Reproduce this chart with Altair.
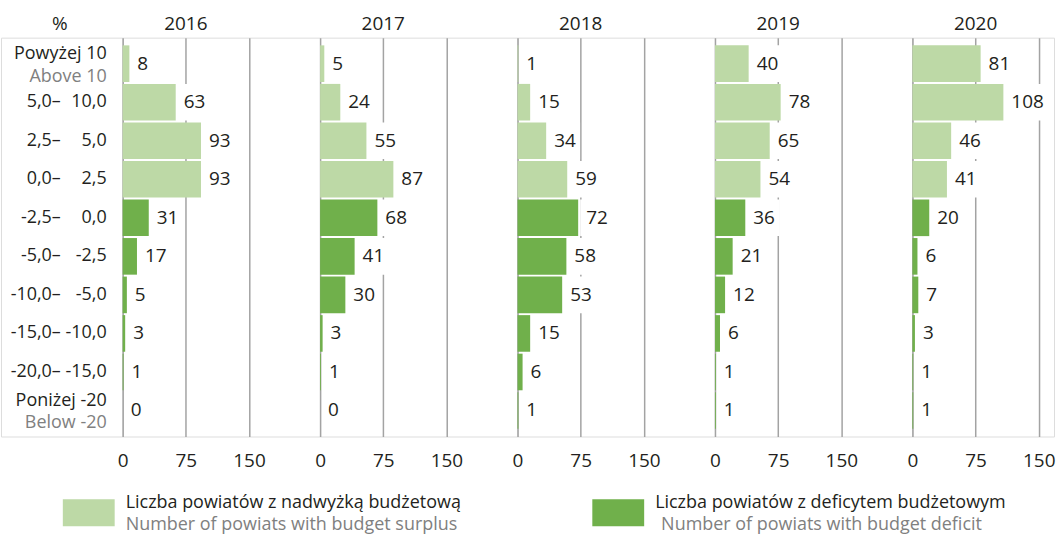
import altair as alt
import pandas as pd

# Budget result classes (% of revenue), top to bottom
cat_keys = ["p10", "5-10", "2.5-5", "0-2.5", "-2.5-0", "-5--2.5",
            "-10--5", "-15--10", "-20--15", "m20"]
label_lo = ["", "5,0–", "2,5–", "0,0–", "-2,5–", "-5,0–", "-10,0–",
            "-15,0–", "-20,0–", ""]
label_hi = ["", "10,0", "5,0", "2,5", "0,0", "-2,5", "-5,0", "-10,0",
            "-15,0", ""]
label_pl = ["Powyżej 10", "", "", "", "", "", "", "", "", "Poniżej -20"]
label_en = ["Above 10", "", "", "", "", "", "", "", "", "Below -20"]
kinds = ["surplus"] * 4 + ["deficit"] * 6

years = ["2016", "2017", "2018", "2019", "2020"]
counts = {
    "2016": [8, 63, 93, 93, 31, 17, 5, 3, 1, 0],
    "2017": [5, 24, 55, 87, 68, 41, 30, 3, 1, 0],
    "2018": [1, 15, 34, 59, 72, 58, 53, 15, 6, 1],
    "2019": [40, 78, 65, 54, 36, 21, 12, 6, 1, 1],
    "2020": [81, 108, 46, 41, 20, 6, 7, 3, 1, 1],
}

legend_pl = ["Liczba powiatów z nadwyżką budżetową",
             "Liczba powiatów z deficytem budżetowym"]
legend_en = ["Number of powiats with budget surplus",
             "Number of powiats with budget deficit"]

LIGHT = "#bdd9a6"
DARK = "#70b04b"
INK = "#231f20"
GREY = "#808080"
FONT = "Open Sans"
FS = 19
FS_ROW = 18
FS_LEG = 18

PLOT_H = 400
LABEL_W = 122
PANEL_W = [198, 198, 198, 198, 142]
PX_PER_UNIT = 126.7 / 150  # pixels per powiat on the x scale

y_enc = alt.Y("cat:N", sort=cat_keys, axis=None,
              scale=alt.Scale(type="band", paddingInner=0.05, paddingOuter=0.2))

labels_df = pd.DataFrame({"cat": cat_keys, "lo": label_lo, "hi": label_hi,
                          "pl": label_pl, "en": label_en})

lab_base = alt.Chart(labels_df).encode(y=y_enc)
lab_lo = lab_base.mark_text(align="right", font=FONT, fontSize=FS_ROW, color=INK).encode(
    x=alt.value(60), text="lo:N")
lab_hi = lab_base.mark_text(align="right", font=FONT, fontSize=FS_ROW, color=INK).encode(
    x=alt.value(106), text="hi:N")
lab_pl = lab_base.mark_text(align="right", font=FONT, fontSize=FS_ROW, color=INK, dy=-10).encode(
    x=alt.value(106), text="pl:N")
lab_en = lab_base.mark_text(align="right", font=FONT, fontSize=FS_ROW, color=GREY, dy=13).encode(
    x=alt.value(106), text="en:N")
pct = alt.Chart(pd.DataFrame({"t": ["%"]})).mark_text(
    font=FONT, fontSize=FS, color=INK).encode(
    text="t:N", x=alt.value(59), y=alt.value(-14))


def legend_item(x0, color, pl, en, en_dx):
    df = pd.DataFrame({"pl": [pl], "en": [en]})
    base = alt.Chart(df)
    swatch = base.mark_rect(color=color).encode(
        x=alt.value(x0), x2=alt.value(x0 + 52),
        y=alt.value(463), y2=alt.value(490))
    t1 = base.mark_text(align="left", baseline="alphabetic", font=FONT,
                        fontSize=FS_LEG, color=INK).encode(
        text="pl:N", x=alt.value(x0 + 63), y=alt.value(472))
    t2 = base.mark_text(align="left", baseline="alphabetic", font=FONT,
                        fontSize=FS_LEG, color=GREY).encode(
        text="en:N", x=alt.value(x0 + 63 + en_dx), y=alt.value(494))
    return [swatch, t1, t2]


label_panel = alt.layer(
    lab_lo, lab_hi, lab_pl, lab_en, pct,
    *legend_item(62, LIGHT, legend_pl[0], legend_en[0], 0),
    *legend_item(593, DARK, legend_pl[1], legend_en[1], 6),
).properties(width=LABEL_W, height=PLOT_H)


def year_panel(year, width):
    df = pd.DataFrame({"cat": cat_keys, "value": counts[year], "kind": kinds})
    xmax = width / PX_PER_UNIT
    k = 1 / PX_PER_UNIT
    x_enc = alt.X("value:Q", title=None,
                  scale=alt.Scale(domain=[0, xmax], nice=False, zero=True),
                  axis=alt.Axis(values=[0, 75, 150], grid=True, gridColor="#a3a3a3",
                                gridWidth=1.5, domain=False, ticks=False,
                                labelFont=FONT, labelFontSize=FS, labelColor=INK,
                                labelPadding=15, labelFlush=False))
    base = alt.Chart(df).encode(y=y_enc)
    bars = base.mark_bar().encode(
        x=x_enc,
        color=alt.Color("kind:N", scale=alt.Scale(domain=["surplus", "deficit"],
                                                  range=[LIGHT, DARK]), legend=None))
    # white backing behind each value label so gridlines pass under the text
    backing = base.transform_calculate(
        lo=f"datum.value + 2*{k}",
        hi=f"datum.value + (12 + 11*length(toString(datum.value)))*{k}",
    ).mark_bar(color="white").encode(x="lo:Q", x2="hi:Q")
    text = base.mark_text(align="left", dx=8, font=FONT, fontSize=FS, color=INK).encode(
        x="value:Q", text="value:Q")
    title = alt.Chart(pd.DataFrame({"t": [year]})).mark_text(
        font=FONT, fontSize=FS, color=INK).encode(
        text="t:N", x=alt.datum(75), y=alt.value(-14))
    return alt.layer(bars, backing, text, title).properties(width=width, height=PLOT_H)


panels = [year_panel(y, w) for y, w in zip(years, PANEL_W)]

chart = alt.hconcat(label_panel, *panels, spacing=0, bounds="flush").properties(
    padding={"left": 0, "top": 13, "right": 0, "bottom": 0}
).configure_view(stroke=None).configure(background="white")

chart.save("out.html", embed_options={"renderer": "svg", "actions": False})
